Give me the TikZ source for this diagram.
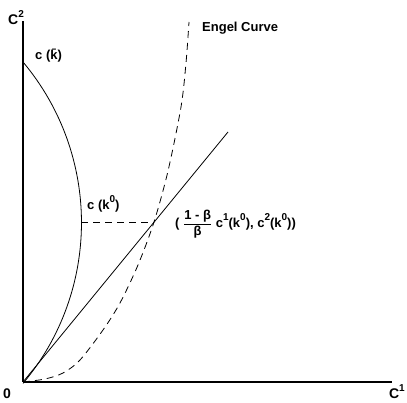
\documentclass[tikz,border=0pt]{standalone}
\usepackage{fontspec}
\setmainfont{Liberation Sans}
\newcommand{\supr}[1]{\raisebox{0.55em}{\fontsize{10}{12}\selectfont #1}}
\begin{document}
\begin{tikzpicture}[x=1pt,y=1pt,
  lbl/.style={font=\bfseries\fontsize{13}{15}\selectfont, inner sep=0pt},
  axlbl/.style={font=\bfseries\fontsize{14}{16}\selectfont, inner sep=0pt},
  axis/.style={line width=1.3pt},
  curve/.style={line width=0.8pt},
  dsh/.style={curve, dash pattern=on 7pt off 5pt}]
\useasboundingbox (0,0) rectangle (407,403);
\coordinate (O) at (23,21);
\coordinate (ytop) at (23,382);
\coordinate (xend) at (392,21);
\coordinate (kbar) at (23,341);
\coordinate (k0) at (81,181);
\coordinate (P) at (154,181);
\coordinate (rayend) at (228,271);
\draw[axis] (O) -- (ytop);
\draw[axis] (O) -- (xend);
\draw[curve] (kbar) arc[start angle=40,end angle=-40,radius=250];
\draw[curve] (O) -- (rayend);
\draw[dsh] (k0) -- (P);
\draw[dsh] plot[smooth] coordinates {(23,21) (45,24) (63,30) (80,43) (103,73) (120,100) (138,138) (154,181) (168,232) (181,296) (186,340) (189,381)};
\node[axlbl,anchor=base west] (c2) at (8,378) {C\supr{2}};
\node[axlbl,anchor=base west] (zero) at (3,4) {0};
\node[axlbl,anchor=base east] (c1) at (405,4) {C\supr{1}};
\node[lbl,anchor=base west] (lkbar) at (35,343) {c (\={k})};
\node[lbl,anchor=base west] (lk0) at (87,193) {c (k\supr{0})};
\node[lbl,anchor=west] (lP) at (175,179) {( $\displaystyle\frac{\hbox{\bfseries 1 - β}}{\hbox{\bfseries β}}$ c\supr{1}(k\supr{0}), c\supr{2}(k\supr{0}))};
\node[lbl,anchor=base west] (engel) at (202,371) {Engel Curve};
\end{tikzpicture}
\end{document}
